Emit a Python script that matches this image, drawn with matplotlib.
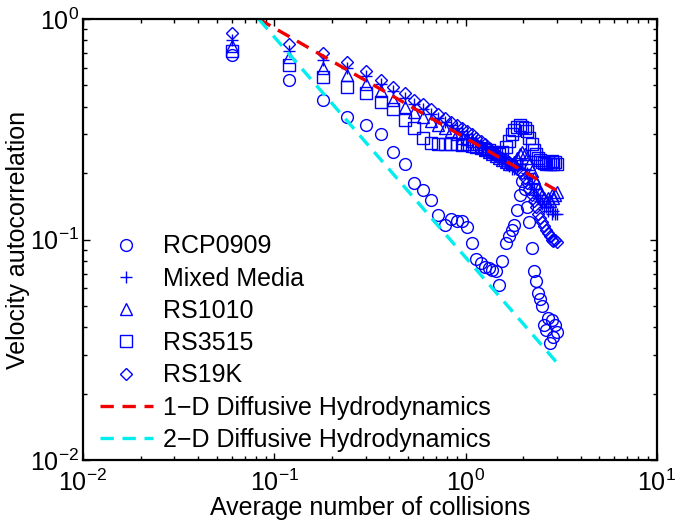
import numpy as np
import matplotlib
matplotlib.use("Agg")
import matplotlib.pyplot as plt
from matplotlib.ticker import LogLocator, NullFormatter

plt.rcParams["font.family"] = ["Liberation Sans", "DejaVu Sans"]
plt.rcParams["mathtext.fontset"] = "custom"
plt.rcParams["mathtext.rm"] = "Liberation Sans"
plt.rcParams["mathtext.it"] = "Liberation Sans"
plt.rcParams["mathtext.default"] = "regular"

# average number of collisions (one sample every 0.06)
collisions = [0.06, 0.12, 0.18, 0.24, 0.30, 0.36, 0.42, 0.48, 0.54, 0.60,
              0.66, 0.72, 0.78, 0.84, 0.90, 0.96, 1.02, 1.08, 1.14, 1.20,
              1.26, 1.32, 1.38, 1.44, 1.50, 1.56, 1.62, 1.68, 1.74, 1.80,
              1.86, 1.92, 1.98, 2.04, 2.10, 2.16, 2.22, 2.28, 2.34, 2.40,
              2.46, 2.52, 2.58, 2.64, 2.70, 2.76, 2.82, 2.88, 2.94, 3.00]

rcp0909 = [0.69, 0.53, 0.43, 0.36, 0.33, 0.30, 0.25, 0.22, 0.18, 0.168,
           0.151, 0.129, 0.116, 0.124, 0.122, 0.121, 0.114, 0.096, 0.082, 0.078,
           0.075, 0.074, 0.073, 0.072, 0.062, 0.080, 0.096, 0.104, 0.110, 0.116,
           0.136, 0.160, 0.185, 0.170, 0.140, 0.120, 0.092, 0.072, 0.065, 0.057,
           0.054, 0.050, 0.041, 0.039, 0.044, 0.034, 0.043, 0.036, 0.041, 0.038]

mixed_media = [0.80, 0.72, 0.65, 0.60, 0.55, 0.51, 0.47, 0.44, 0.41, 0.39,
               0.37, 0.355, 0.34, 0.33, 0.32, 0.31, 0.30, 0.29, 0.28, 0.27,
               0.26, 0.25, 0.245, 0.24, 0.23, 0.225, 0.22, 0.215, 0.21, 0.21,
               0.215, 0.22, 0.22, 0.21, 0.20, 0.19, 0.18, 0.17, 0.16, 0.155,
               0.15, 0.145, 0.14, 0.14, 0.135, 0.14, 0.13, 0.135, 0.13, 0.13]

rs1010 = [0.755, 0.67, 0.60, 0.56, 0.51, 0.47, 0.43, 0.40, 0.38, 0.36,
          0.345, 0.33, 0.32, 0.31, 0.30, 0.29, 0.285, 0.28, 0.27, 0.265,
          0.255, 0.25, 0.245, 0.24, 0.235, 0.23, 0.225, 0.22, 0.22, 0.225,
          0.235, 0.245, 0.25, 0.245, 0.235, 0.22, 0.205, 0.19, 0.18, 0.17,
          0.165, 0.16, 0.155, 0.15, 0.155, 0.15, 0.16, 0.155, 0.16, 0.165]

rs3515 = [0.72, 0.62, 0.545, 0.49, 0.46, 0.42, 0.39, 0.35, 0.32, 0.29,
          0.275, 0.27, 0.27, 0.272, 0.27, 0.268, 0.27, 0.265, 0.262, 0.26,
          0.258, 0.255, 0.25, 0.248, 0.245, 0.25, 0.262, 0.28, 0.30, 0.315,
          0.325, 0.33, 0.325, 0.32, 0.31, 0.29, 0.27, 0.255, 0.245, 0.235,
          0.23, 0.225, 0.222, 0.22, 0.225, 0.22, 0.228, 0.22, 0.225, 0.22]

rs19k = [0.864, 0.77, 0.70, 0.64, 0.58, 0.53, 0.49, 0.46, 0.43, 0.41,
         0.39, 0.37, 0.355, 0.34, 0.33, 0.32, 0.31, 0.30, 0.29, 0.28,
         0.27, 0.26, 0.25, 0.245, 0.24, 0.235, 0.23, 0.225, 0.22, 0.215,
         0.21, 0.205, 0.20, 0.19, 0.18, 0.17, 0.16, 0.15, 0.14, 0.13,
         0.125, 0.12, 0.115, 0.11, 0.107, 0.104, 0.10, 0.098, 0.10, 0.097]

# end points of the two reference power laws (straight on log-log axes)
ref_x = [0.083, 3.0]
ref_1d = [1.0, 0.167]
ref_2d = [1.0, 0.0277]

series = [
    ("RCP0909", rcp0909, "o"),
    ("Mixed Media", mixed_media, "+"),
    ("RS1010", rs1010, "^"),
    ("RS3515", rs3515, "s"),
    ("RS19K", rs19k, "D"),
]
marker_sizes = {"o": 8.5, "+": 9, "^": 8.5, "s": 8.5, "D": 6.5}


def main():
    fs = 18
    fig = plt.figure(figsize=(6.75, 5.3), dpi=100)
    ax = fig.add_axes([0.123, 0.132, 0.850, 0.832])

    for (lbl, vals, mk) in series:
        ax.plot(collisions, vals, linestyle="none", marker=mk,
                markersize=marker_sizes[mk], markerfacecolor="none",
                markeredgecolor="#0000ff", markeredgewidth=1.0, label=lbl)

    ax.plot(ref_x, ref_1d, color="#f00000", lw=2.4, dashes=(4, 2.6),
            label="1\u2212D Diffusive Hydrodynamics")
    ax.plot(ref_x, ref_2d, color="#00eeee", lw=2.4, dashes=(4, 2.6),
            label="2\u2212D Diffusive Hydrodynamics")

    ax.set_xscale("log")
    ax.set_yscale("log")
    ax.set_xlim(1e-2, 1e1)
    ax.set_ylim(1e-2, 1e0)
    ax.xaxis.set_major_locator(LogLocator(base=10, numticks=10))
    ax.yaxis.set_major_locator(LogLocator(base=10, numticks=10))
    ax.xaxis.set_minor_locator(LogLocator(base=10, subs=np.arange(2, 10), numticks=20))
    ax.yaxis.set_minor_locator(LogLocator(base=10, subs=np.arange(2, 10), numticks=20))
    ax.xaxis.set_minor_formatter(NullFormatter())
    ax.yaxis.set_minor_formatter(NullFormatter())
    ax.tick_params(which="both", direction="in", top=True, right=True,
                   labelsize=fs, width=1.0)
    ax.tick_params(which="major", length=5)
    ax.tick_params(which="minor", length=3)
    ax.tick_params(axis="x", pad=7)
    ax.tick_params(axis="y", pad=3)
    for sp in ax.spines.values():
        sp.set_linewidth(1.6)

    ax.set_xlabel("Average number of collisions", fontsize=fs, labelpad=0)
    ax.set_ylabel("Velocity autocorrelation", fontsize=fs, labelpad=0)

    ax.legend(loc="upper left", bbox_to_anchor=(0.030, 0.512),
              frameon=False, fontsize=fs, numpoints=1,
              handlelength=2.1, handletextpad=0.4, labelspacing=0.33,
              borderpad=0, borderaxespad=0)

    fig.savefig("out.png", dpi=100)
    plt.close(fig)


if __name__ == "__main__":
    main()
